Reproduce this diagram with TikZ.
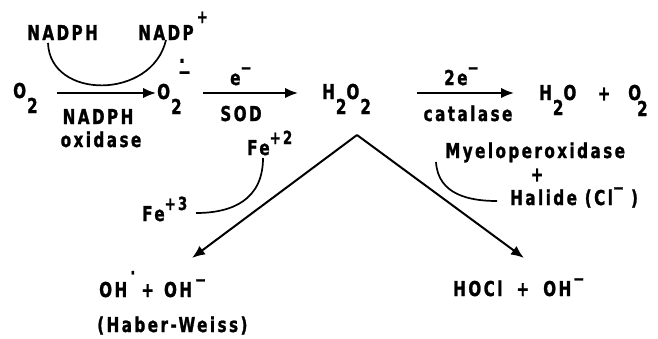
\documentclass[tikz,border=0pt]{standalone}
\usepackage{fontspec}
\newfontfamily\labfont{DejaVu Sans Bold}[LetterSpace=12,FakeStretch=0.74,FakeBold=1.2]
\usetikzlibrary{arrows.meta}
\newcommand{\chsub}[1]{\hspace{1pt}\raisebox{-15pt}{#1}}
\newcommand{\chsup}[2][11pt]{\raisebox{#1}{\fontsize{18}{18}\selectfont #2}}
\tikzset{
  lab/.style={font=\labfont\fontsize{20.5}{24}\selectfont, inner sep=0pt, anchor=base west},
  labc/.style={lab, anchor=base},
  arr/.style={line width=2pt, -{Latex[length=13pt,width=10.5pt]}},
  cur/.style={line width=1.7pt}
}
\begin{document}
\begin{tikzpicture}[x=1pt,y=-1pt]
\useasboundingbox (0,0) rectangle (658,338);
% species
\node[lab] (nadph) at (27,40) {NADPH};
\node[lab] (nadp) at (138,40) {NADP\hspace{3pt}\chsup[17pt]{+}};
\node[lab] (o2a) at (13,98) {O\chsub{2}};
\node[lab] (o2b) at (157,99) {O\chsub{2}};
\node[lab] (rad) at (178,79) {\makebox[0pt][l]{\hspace{1pt}\raisebox{11pt}{·}}−};
\node[lab] (h2o2) at (322,99) {H\chsub{2}O\chsub{2}};
\node[lab] (h2o) at (539,100) {H\chsub{2}O};
\node[lab, anchor=center] (plus1) at (604,94) {+};
\node[lab] (o2c) at (628,100) {O\hspace{-4pt}\raisebox{-16pt}{2}};
% arrow labels
\node[lab] (el) at (230,85) {e\chsup{−}};
\node[labc] (sod) at (241,121) {SOD};
\node[labc] (nox1) at (98,124) {NADPH};
\node[labc] (nox2) at (101,147) {oxidase};
\node[lab] (el2) at (444,85) {2e\chsup{−}};
\node[labc] (cat) at (468,121) {catalase};
\node[lab] (fe2) at (247,155) {Fe\chsup{+2}};
\node[lab] (fe3) at (142,221) {Fe\chsup{+3}};
\node[lab] (mpo) at (445,158) {Myeloperoxidase};
\node[lab, anchor=center] (plus2) at (537,175) {+};
\node[lab] (hal) at (510,205) {Halide (Cl\chsup{−}\hspace{7pt})};
\node[lab] (oh) at (99,297) {OH\hspace{3pt}\chsup[18pt]{·}\hspace{6pt}+\hspace{10pt}OH\hspace{3pt}\chsup{−}};
\node[lab] (hw) at (97,332) {(Haber-Weiss)};
\node[lab] (hocl) at (453,296) {HOCl\hspace{14pt}+\hspace{14pt}OH\hspace{2pt}\chsup{−}};
% connector points
\coordinate (a1s) at (57,93);  \coordinate (a1e) at (156,93);
\coordinate (a2s) at (203,93); \coordinate (a2e) at (298,93);
\coordinate (a3s) at (417,93); \coordinate (a3e) at (514,93);
\coordinate (apex) at (357,135);
\coordinate (dl) at (192,258);
\coordinate (dr) at (524,258);
\coordinate (arcA) at (48,43); \coordinate (arcB) at (166,40);
\coordinate (feA) at (263,158); \coordinate (feB) at (196,213);
\coordinate (mpA) at (436,162); \coordinate (mpB) at (497,201);
% arrows
\draw[arr] (a1s) -- (a1e);
\draw[arr] (a2s) -- (a2e);
\draw[arr] (a3s) -- (a3e);
\draw[arr] (apex) -- (dl);
\draw[arr] (apex) -- (dr);
% curves
\draw[cur] (arcA) .. controls (50,100) and (152,100) .. (arcB);
\draw[cur] (feA) .. controls (263,200) and (232,213) .. (feB);
\draw[cur] (mpA) .. controls (438,195) and (470,201) .. (mpB);
\end{tikzpicture}
\end{document}
